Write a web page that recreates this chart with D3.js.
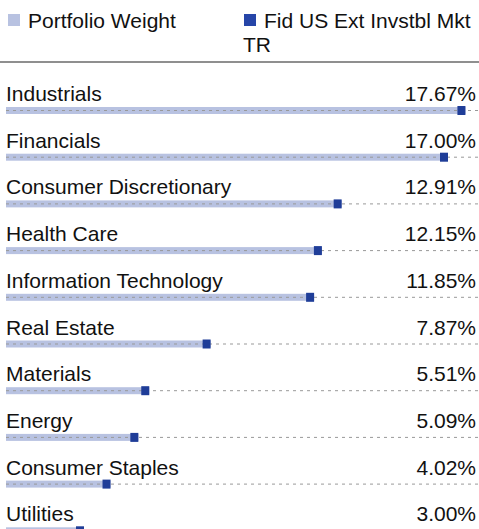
<!DOCTYPE html>
<html lang='en'>
	<head>
		<title>Sector weights</title>
		<script type='text/javascript' src='https://cdn.jsdelivr.net/npm/d3@7'></script>
		<style>
			body { margin: 0; background: #fff; }
			text { font-family: 'Liberation Sans', Arial, Helvetica, sans-serif; fill: #111; }
		</style>
	</head>
	<body>
		<script type='text/javascript'>
		var sectors = ['Industrials', 'Financials', 'Consumer Discretionary', 'Health Care', 'Information Technology',
			'Real Estate', 'Materials', 'Energy', 'Consumer Staples', 'Utilities'];
		var portfolio = [17.67, 17.00, 12.91, 12.15, 11.85, 7.87, 5.51, 5.09, 4.02, 3.00];
		var benchmark = [17.67, 17.00, 12.91, 12.15, 11.85, 7.87, 5.51, 5.09, 4.02, 3.00];
		var seriesNames = ['Portfolio Weight', 'Fid US Ext Invstbl Mkt TR'];
		{
			var width = 479, height = 529;
			var svg_elem = d3.select('body').append('svg').attr('width', width).attr('height', height)

			var light = '#b8c2e1', dark = '#1f3d98', legendDark = '#2645a8';
			var fontSize = 21;

			// legend
			var legend = svg_elem.append('g')
			legend.append('rect').attr('x', 8).attr('y', 14).attr('width', 12).attr('height', 12).attr('fill', light)
			legend.append('text').attr('x', 28).attr('y', 28).attr('font-size', fontSize).text(seriesNames[0])
			legend.append('rect').attr('x', 244).attr('y', 14).attr('width', 12).attr('height', 12).attr('fill', legendDark)
			var words = seriesNames[1].split(' ')
			legend.append('text').attr('x', 264).attr('y', 28).attr('font-size', fontSize).text(words.slice(0, -1).join(' '))
			legend.append('text').attr('x', 243).attr('y', 52).attr('font-size', fontSize).text(words[words.length - 1])

			svg_elem.append('line').attr('x1', 0).attr('x2', width).attr('y1', 62).attr('y2', 62)
				.attr('stroke', '#8f8f8f').attr('stroke-width', 2)

			var x = d3.scaleLinear().domain([0, 18]).range([6, 474])
			var y = d3.scaleBand().domain(sectors).range([86, 86 + 46.7 * sectors.length])

			var rows = svg_elem.selectAll('g.row').data(sectors).enter().append('g').attr('class', 'row')
				.attr('transform', d => 'translate(0,' + y(d) + ')')

			rows.append('text').attr('x', 6).attr('y', 15).attr('font-size', fontSize).text(d => d)
			rows.append('text').attr('x', 476).attr('y', 15).attr('font-size', fontSize).attr('text-anchor', 'end')
				.text((d, i) => portfolio[i].toFixed(2) + '%')

			rows.append('rect').attr('x', x(0)).attr('y', 21).attr('height', 7)
				.attr('width', (d, i) => x(portfolio[i]) - x(0)).attr('fill', light)
			rows.append('line').attr('x1', x(0)).attr('x2', width).attr('y1', 24.5).attr('y2', 24.5)
				.attr('stroke', '#999').attr('stroke-width', 1).attr('stroke-dasharray', '3,4')
			rows.append('rect').attr('x', (d, i) => x(benchmark[i]) - 8).attr('y', 20).attr('width', 8).attr('height', 9)
				.attr('fill', dark)
		}
		</script>
	</body>
</html>
